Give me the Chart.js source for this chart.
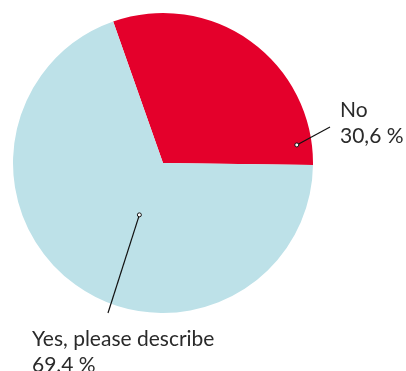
<!DOCTYPE html>
<html>
<head>
<meta charset="utf-8">
<script src="https://cdn.jsdelivr.net/npm/chart.js@4/dist/chart.umd.min.js"></script>
<style>
  html, body { margin: 0; padding: 0; background: #fff; }
  #wrap { width: 406px; height: 371px; position: relative; }
</style>
</head>
<body>
<div id="wrap"><canvas id="pieChart"></canvas></div>
<script>
var categories = ["No", "Yes, please describe"];
var shares = [30.6, 69.4];
var valueLabels = ["30,6 %", "69.4 %"];
var sliceColors = ["#e4002b", "#bde1e8"];

// callouts: dot (angle from top in deg, fraction of radius), line end and text spot relative to centre
var callouts = [
    { angle: 82.3, frac: 0.9, lineEnd: [167, -36], text: [177, -46], align: "left" },
    { angle: 204.5, frac: 0.38, lineEnd: [-55, 150], text: [-131, 183], align: "left" }
];

var calloutPlugin = {
    id: 'callouts',
    afterDatasetsDraw: function (chart) {
        var ctx = chart.ctx;
        var arc = chart.getDatasetMeta(0).data[0];
        var cx = arc.x, cy = arc.y, r = arc.outerRadius;
        ctx.save();
        callouts.forEach(function (c, i) {
            var a = (c.angle - 90) * Math.PI / 180;
            var dx = cx + Math.cos(a) * r * c.frac;
            var dy = cy + Math.sin(a) * r * c.frac;
            ctx.strokeStyle = "#111";
            ctx.lineWidth = 1.2;
            ctx.beginPath();
            ctx.moveTo(dx, dy);
            ctx.lineTo(cx + c.lineEnd[0], cy + c.lineEnd[1]);
            ctx.stroke();
            ctx.beginPath();
            ctx.arc(dx, dy, 2, 0, Math.PI * 2);
            ctx.fillStyle = "#fff";
            ctx.fill();
            ctx.lineWidth = 1;
            ctx.stroke();

            ctx.fillStyle = "#2a2a2a";
            ctx.font = "21px Lato";
            ctx.textAlign = c.align;
            ctx.textBaseline = "alphabetic";
            var tx = cx + c.text[0], ty = cy + c.text[1];
            ctx.fillText(categories[i], tx, ty);
            ctx.fillText(valueLabels[i], tx, ty + 26);
        });
        ctx.restore();
    }
};

var chart = new Chart(document.getElementById("pieChart"), {
    type: 'pie',
    data: {
        labels: categories,
        datasets: [{
            data: shares,
            backgroundColor: sliceColors,
            borderWidth: 0
        }]
    },
    options: {
        responsive: true,
        maintainAspectRatio: false,
        animation: false,
        rotation: -19.4,
        layout: { padding: { left: 13, right: 93, top: 13, bottom: 58 } },
        plugins: {
            legend: { display: false },
            tooltip: { enabled: false }
        }
    },
    plugins: [calloutPlugin]
});
</script>
</body>
</html>
